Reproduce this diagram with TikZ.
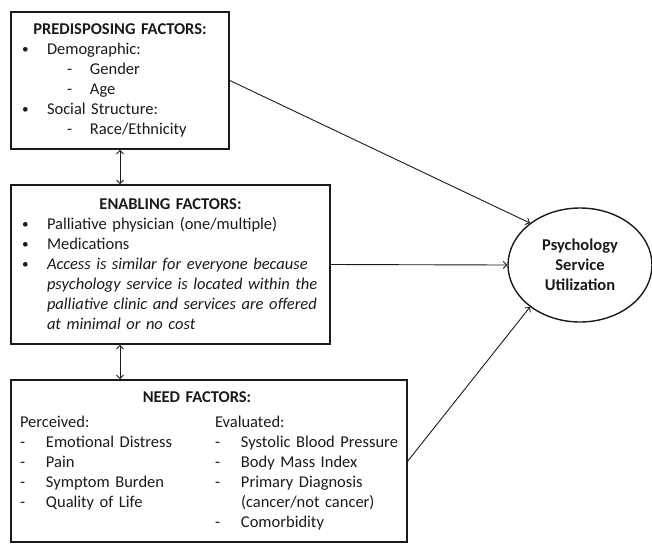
\documentclass[tikz,border=0pt]{standalone}
\usepackage{fontspec}
\setmainfont{Carlito}
\usetikzlibrary{arrows.meta, positioning, calc, shapes.geometric}
\definecolor{factorink}{HTML}{1A1A1A}

\newcommand{\bul}[2][]{\makebox[25pt][l]{\raisebox{1pt}{\scalebox{0.8}{\textbullet}}}\parbox[t]{272pt}{#1#2}\par}
\newcommand{\dsh}[1]{\hspace*{45pt}\makebox[23pt][l]{-}#1\par}
\newcommand{\nitem}[1]{\makebox[26pt][l]{-}\mbox{#1}\par}

\tikzset{
  factor/.style={draw=factorink, line width=1.6pt, rectangle, inner xsep=11pt,
    inner ysep=0pt, align=left, text=factorink,
    font=\fontsize{16.5}{20}\selectfont},
  outcome/.style={draw=factorink, line width=1.4pt, ellipse, minimum width=144pt,
    minimum height=114pt, inner sep=0pt, align=center, text=factorink,
    font=\fontsize{16.5}{20}\selectfont\bfseries},
  link/.style={->, line width=0.9pt, draw=factorink},
  twoway/.style={<->, line width=0.9pt, draw=factorink},
}

\begin{document}
\begin{tikzpicture}[x=1pt, y=-1pt, >={Straight Barb[length=3.5pt,width=7pt]}]
  \useasboundingbox (0,0) rectangle (652,544);

  \node[factor, text width=196pt, minimum height=137pt] (pre) at (120,80.5) {%
    \centering\textbf{PREDISPOSING FACTORS:}\par\raggedright
    \bul{Demographic:}
    \dsh{Gender}
    \dsh{Age}
    \bul{Social Structure:}
    \dsh{Race/Ethnicity}};

  \node[factor, text width=297pt, minimum height=159pt] (ena) at (170.5,264.5) {%
    \centering\textbf{ENABLING FACTORS:}\par\raggedright
    \bul{Palliative physician (one/multiple)}
    \bul{Medications}
    \bul[\itshape]{Access is similar for everyone because\\
      psychology service is located within the\\
      palliative clinic and services are offered\\
      at minimal or no cost}};

  \node[factor, inner xsep=9pt, text width=378pt, minimum height=162pt] (need) at (209,461) {%
    \centering\hspace*{-24pt}\textbf{NEED FACTORS:}\par\vspace{5pt}\raggedright
    \begin{minipage}[t]{195pt}
      Perceived:\par
      \nitem{Emotional Distress}
      \nitem{Pain}
      \nitem{Symptom Burden}
      \nitem{Quality of Life}
    \end{minipage}%
    \begin{minipage}[t]{183pt}
      Evaluated:\par
      \nitem{Systolic Blood Pressure}
      \nitem{Body Mass Index}
      \nitem{Primary Diagnosis}
      \hspace*{26pt}(cancer/not cancer)\par
      \nitem{Comorbidity}
    \end{minipage}};

  \node[outcome] (use) at (580,265) {Psychology\\Service\\Utilization};

  % paths into the outcome
  \draw[link] (pre.east) -- (use.140);
  \draw[link] (ena.east) -- (use.west);
  \draw[link] (need.east) -- (use.220);

  % links between the factor groups
  \draw[twoway] (pre.south) -- (pre.south |- ena.north);
  \draw[twoway] (ena.south -| pre.south) -- (need.north -| pre.south);
\end{tikzpicture}
\end{document}
